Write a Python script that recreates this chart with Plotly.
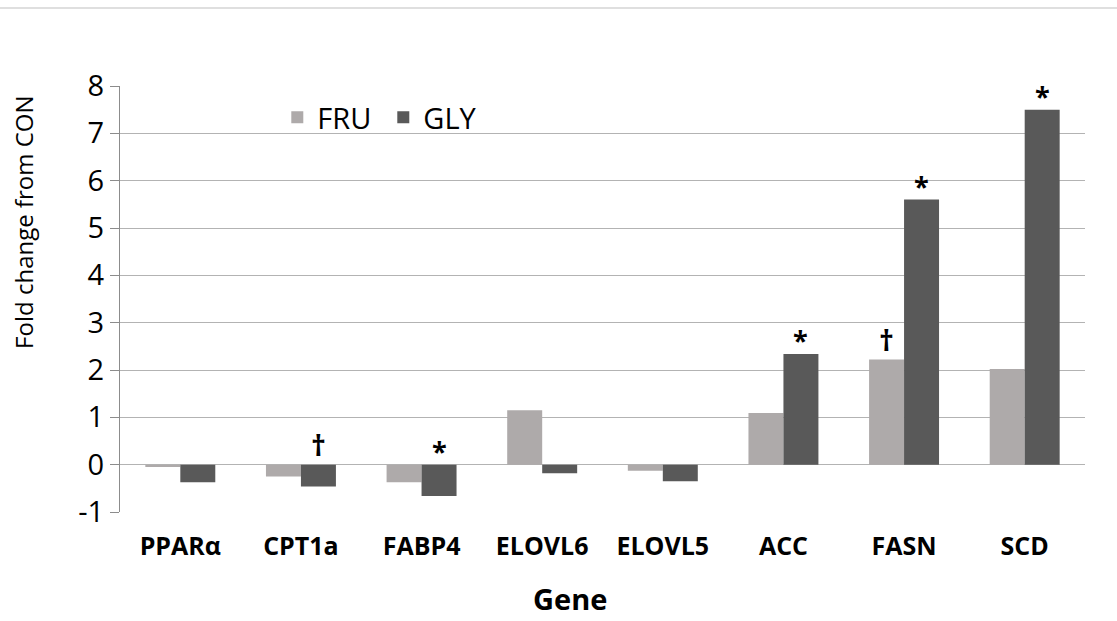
import plotly.graph_objects as go

genes = ["PPARα", "CPT1a", "FABP4", "ELOVL6", "ELOVL5", "ACC", "FASN", "SCD"]
fru = [-0.05, -0.25, -0.37, 1.15, -0.13, 1.09, 2.22, 2.02]
gly = [-0.37, -0.46, -0.66, -0.18, -0.35, 2.34, 5.60, 7.50]
fru_sig = ["", "", "", "", "", "", "†", ""]
gly_sig = ["", "†", "*", "", "", "*", "*", "*"]
y_ticks = [-1, 0, 1, 2, 3, 4, 5, 6, 7, 8]
y_ticktext = ["-1", "0", "1", "2", "3", "4", "5", "6", "7", "8"]

FONT = "Open Sans"
FRU_COLOR = "#aeaaaa"
GLY_COLOR = "#595959"
GRID = "#b3b3b3"

fig = go.Figure()
fig.add_trace(go.Bar(name="FRU", x=genes, y=fru, marker_color=FRU_COLOR,
                     marker_line_width=0))
fig.add_trace(go.Bar(name="GLY", x=genes, y=gly, marker_color=GLY_COLOR,
                     marker_line_width=0))

# significance marks sit above the bar (or above zero for negative bars)
bar_shift = 17.5
mark_yshift = {"*": -6, "†": -1}
mark_size = {"*": 27, "†": 29}
for marks, vals, shift in ((fru_sig, fru, -bar_shift), (gly_sig, gly, bar_shift)):
    for g, m, v in zip(genes, marks, vals):
        if m:
            fig.add_annotation(x=g, y=max(v, 0), text=f"<b>{m}</b>",
                               showarrow=False, xshift=shift,
                               yshift=mark_yshift[m], yanchor="bottom",
                               font=dict(family=FONT, size=mark_size[m],
                                         color="#000"))

# axis titles
fig.add_annotation(xref="paper", yref="paper", x=-0.0995, y=0.681,
                   text="Fold change from CON", textangle=-90, showarrow=False,
                   xanchor="center", yanchor="middle",
                   font=dict(family=FONT, size=24, color="#000"))
fig.add_annotation(xref="paper", yref="paper", x=0.466, y=-0.203,
                   text="<b>Gene</b>", showarrow=False,
                   xanchor="center", yanchor="middle",
                   font=dict(family=FONT, size=29, color="#000"))

fig.update_layout(
    width=1117, height=621,
    margin=dict(l=120, r=32, t=86, b=109),
    paper_bgcolor="white", plot_bgcolor="white",
    barmode="group", bargap=0.42, bargroupgap=0,
    font=dict(family=FONT, color="#000"),
    legend=dict(orientation="h", x=0.163, y=0.926, xanchor="left", yanchor="middle",
                font=dict(family=FONT, size=29), bgcolor="rgba(0,0,0,0)",
                entrywidth=61, entrywidthmode="pixels", traceorder="normal"),
    shapes=[dict(type="line", xref="paper", yref="paper", x0=-0.2, x1=1.1,
                 y0=1.183, y1=1.183, line=dict(color="#d4d4d4", width=1.5))],
)
fig.update_yaxes(range=[-1, 8], tickvals=y_ticks, ticktext=y_ticktext,
                 showgrid=True, gridcolor=GRID,
                 gridwidth=1, zeroline=True, zerolinecolor=GRID, zerolinewidth=1,
                 showline=True, linecolor="#8c8c8c", linewidth=1,
                 ticks="outside", ticklen=9, tickcolor="#8c8c8c",
                 tickfont=dict(family=FONT, size=29))
fig.update_xaxes(showgrid=False, showline=False, ticks="",
                 ticklabelstandoff=17,
                 tickfont=dict(family=FONT, size=25, color="#000"),
                 tickprefix="<b>", ticksuffix="</b>")

fig.write_html("out.html")
